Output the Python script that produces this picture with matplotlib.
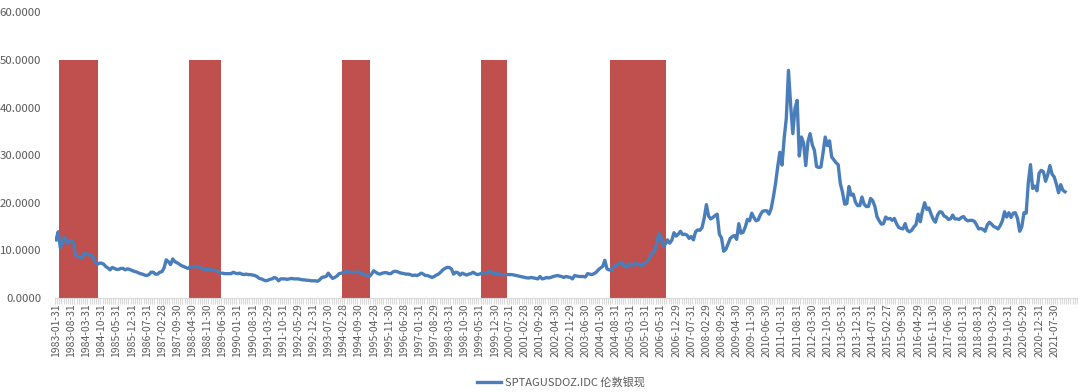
import numpy as np
import pandas as pd
import matplotlib
matplotlib.use("Agg")
import matplotlib.pyplot as plt

plt.rcParams['font.family'] = ['Noto Sans CJK SC', 'DejaVu Sans']

# monthly silver spot, 1983-01 .. 2021-12
silver = {
    1983: [12.2, 13.9, 10.5, 11.8, 12.7, 11.5, 11.9, 12.0, 11.6, 9.0, 8.7, 8.6],
    1984: [8.4, 9.4, 9.3, 9.1, 9.0, 8.7, 7.6, 7.0, 7.3, 7.3, 7.1, 6.6],
    1985: [6.3, 5.9, 6.4, 6.2, 6.0, 6.0, 6.2, 6.2, 5.9, 6.1, 6.0, 5.8],
    1986: [5.6, 5.5, 5.3, 5.1, 5.0, 4.8, 4.7, 4.9, 5.4, 5.4, 5.0, 5.0],
    1987: [5.4, 5.5, 6.3, 8.0, 7.6, 7.0, 8.2, 7.6, 7.4, 7.1, 6.8, 6.6],
    1988: [6.4, 6.2, 6.5, 6.5, 6.6, 6.6, 6.5, 6.3, 6.1, 6.0, 6.0, 5.9],
    1989: [5.9, 5.8, 5.7, 5.6, 5.2, 5.2, 5.1, 5.1, 5.1, 5.1, 5.4, 5.2],
    1990: [5.1, 5.2, 5.0, 4.9, 5.0, 4.9, 4.9, 4.8, 4.7, 4.5, 4.1, 4.0],
    1991: [3.8, 3.6, 3.7, 3.9, 4.0, 4.3, 4.1, 3.6, 4.0, 4.0, 4.0, 3.9],
    1992: [4.0, 4.1, 4.0, 4.0, 4.0, 3.9, 3.8, 3.8, 3.7, 3.7, 3.6, 3.6],
    1993: [3.6, 3.5, 3.8, 4.3, 4.4, 4.5, 5.2, 4.6, 4.1, 4.3, 4.6, 5.1],
    1994: [5.2, 5.3, 5.6, 5.5, 5.4, 5.3, 5.4, 5.3, 5.5, 5.2, 5.0, 4.9],
    1995: [4.7, 4.5, 5.0, 5.7, 5.4, 5.1, 5.0, 5.2, 5.3, 5.3, 5.1, 5.1],
    1996: [5.5, 5.6, 5.5, 5.3, 5.2, 5.1, 5.0, 5.0, 4.9, 4.7, 4.8, 4.7],
    1997: [4.9, 5.2, 5.0, 4.7, 4.7, 4.5, 4.3, 4.5, 4.8, 5.0, 5.4, 5.9],
    1998: [6.2, 6.4, 6.4, 6.1, 5.0, 5.4, 5.3, 4.8, 5.2, 5.0, 4.8, 5.0],
    1999: [5.1, 5.4, 5.1, 4.9, 5.0, 5.2, 5.3, 5.2, 5.4, 5.6, 5.1, 5.2],
    2000: [5.1, 5.0, 4.9, 4.9, 4.9, 4.9, 4.9, 4.9, 4.8, 4.7, 4.6, 4.5],
    2001: [4.4, 4.3, 4.2, 4.2, 4.3, 4.2, 4.1, 4.0, 4.5, 4.0, 4.1, 4.3],
    2002: [4.2, 4.3, 4.5, 4.6, 4.7, 4.6, 4.5, 4.3, 4.5, 4.4, 4.3, 4.0],
    2003: [4.7, 4.6, 4.5, 4.5, 4.5, 4.4, 5.1, 5.0, 4.9, 5.1, 5.4, 5.9],
    2004: [6.3, 6.6, 7.9, 6.1, 5.9, 5.8, 6.6, 6.8, 7.0, 7.3, 7.5, 6.6],
    2005: [6.5, 7.1, 7.0, 6.8, 7.3, 7.0, 7.1, 6.8, 7.2, 7.4, 8.0, 8.6],
    2006: [9.6, 9.8, 11.5, 13.5, 12.7, 10.9, 11.3, 12.2, 11.5, 12.1, 13.7, 13.0],
    2007: [13.4, 14.0, 13.3, 13.4, 13.2, 12.5, 12.9, 12.2, 13.9, 14.3, 14.2, 14.8],
    2008: [16.8, 19.6, 17.2, 16.6, 16.9, 17.3, 17.6, 13.4, 12.6, 9.8, 10.2, 11.3],
    2009: [12.5, 12.9, 13.1, 12.3, 15.6, 13.6, 13.8, 14.9, 16.5, 16.2, 17.8, 16.9],
    2010: [16.2, 16.4, 17.5, 18.2, 18.3, 18.3, 17.6, 18.8, 21.2, 24.0, 27.5, 30.6],
    2011: [27.9, 33.5, 37.8, 47.8, 40.5, 34.5, 39.8, 41.5, 29.8, 33.8, 32.5, 27.8],
    2012: [32.8, 34.5, 32.2, 31.0, 27.6, 27.4, 27.5, 30.5, 33.8, 32.0, 33.0, 29.6],
    2013: [29.0, 28.4, 28.0, 24.0, 22.2, 19.7, 19.8, 23.4, 21.6, 21.8, 20.1, 19.4],
    2014: [19.4, 21.2, 19.7, 19.2, 19.2, 20.9, 20.4, 19.2, 17.0, 16.2, 15.5, 15.6],
    2015: [17.0, 16.6, 16.7, 16.3, 16.7, 15.6, 14.8, 14.6, 14.5, 15.6, 14.2, 13.9],
    2016: [14.2, 14.9, 15.4, 17.6, 16.0, 18.3, 20.0, 18.6, 18.9, 17.6, 16.5, 15.9],
    2017: [17.4, 18.1, 18.0, 17.2, 17.0, 16.5, 16.6, 17.4, 16.6, 16.6, 16.5, 16.9],
    2018: [17.1, 16.5, 16.2, 16.3, 16.3, 16.1, 15.4, 14.5, 14.6, 14.4, 14.0, 15.3],
    2019: [15.9, 15.5, 15.0, 14.8, 14.5, 15.2, 16.2, 18.1, 17.0, 17.9, 16.9, 17.8],
    2020: [17.9, 16.7, 14.0, 15.0, 17.9, 17.8, 24.2, 28.0, 23.0, 23.5, 22.5, 26.2],
    2021: [26.8, 26.5, 24.5, 25.9, 27.8, 26.0, 25.4, 23.9, 22.1, 23.8, 22.6, 22.3],
}

# shaded periods (first month, last month)
shade_periods = [("1983-03", "1984-08"), ("1988-03", "1989-05"), ("1994-02", "1995-02"),
                 ("1999-06", "2000-05"), ("2004-06", "2006-07")]
shade_level = 50

tick_labels = [
    "1983-01-31", "1983-08-31", "1984-03-31", "1984-10-31", "1985-05-31", "1985-12-31",
    "1986-07-31", "1987-02-28", "1987-09-30", "1988-04-30", "1988-11-30", "1989-06-30",
    "1990-01-31", "1990-08-31", "1991-03-29", "1991-10-31", "1992-05-29", "1992-12-31",
    "1993-07-30", "1994-02-28", "1994-09-30", "1995-04-28", "1995-11-30", "1996-06-28",
    "1997-01-31", "1997-08-29", "1998-03-31", "1998-10-30", "1999-05-31", "1999-12-30",
    "2000-07-31", "2001-02-28", "2001-09-28", "2002-04-30", "2002-11-29", "2003-06-30",
    "2004-01-30", "2004-08-31", "2005-03-31", "2005-10-31", "2006-05-31", "2006-12-29",
    "2007-07-31", "2008-02-29", "2008-09-26", "2009-04-30", "2009-11-30", "2010-06-30",
    "2011-01-31", "2011-08-31", "2012-03-30", "2012-10-31", "2013-05-31", "2013-12-31",
    "2014-07-31", "2015-02-27", "2015-09-30", "2016-04-29", "2016-11-30", "2017-06-30",
    "2018-01-31", "2018-08-31", "2019-03-29", "2019-10-31", "2020-05-29", "2020-12-31",
    "2021-07-30",
]

series_name = "SPTAGUSDOZ.IDC 伦敦银现"

# build series
values = np.concatenate([silver[y] for y in sorted(silver)])
months = pd.period_range("1983-01", periods=len(values), freq="M")
x = np.arange(len(values))
shade = np.zeros(len(values))
for start, end in shade_periods:
    mask = (months >= pd.Period(start, "M")) & (months <= pd.Period(end, "M"))
    shade[mask] = shade_level

fig = plt.figure(figsize=(10.78, 3.92), dpi=100)
ax = fig.add_axes([0.051, 0.24, 0.948, 0.7286])

ax.bar(x, shade, width=1.0, color="#C0504D", linewidth=0)
line, = ax.plot(x, values, color="#4A7EBB", linewidth=2.4, solid_joinstyle="round")

ax.set_xlim(-0.5, 472.5)
ax.set_ylim(0, 60)
ax.set_yticks(np.arange(0, 61, 10))
ax.set_yticklabels(["%.4f" % v for v in np.arange(0, 61, 10)])
ax.set_xticks(x[::7])
ax.set_xticklabels(tick_labels, rotation=90)
ax.set_xticks(np.arange(-0.5, 473, 1), minor=True)

for s in ["left", "right", "top"]:
    ax.spines[s].set_visible(False)
ax.spines["bottom"].set_color("#D9D9D9")
ax.tick_params(axis="y", length=0, pad=10, labelsize=8.2, labelcolor="#595959")
ax.tick_params(axis="x", which="major", length=0, pad=4, labelsize=7.5, labelcolor="#595959")
ax.tick_params(axis="x", which="minor", length=4, color="#D9D9D9", width=0.8)

fig.legend(handles=[line], labels=[series_name], loc="center", bbox_to_anchor=(0.52, 0.024),
           frameon=False, fontsize=8, handlelength=2.2, handletextpad=0.3, labelcolor="#595959")

fig.savefig("out.png", dpi=100)
